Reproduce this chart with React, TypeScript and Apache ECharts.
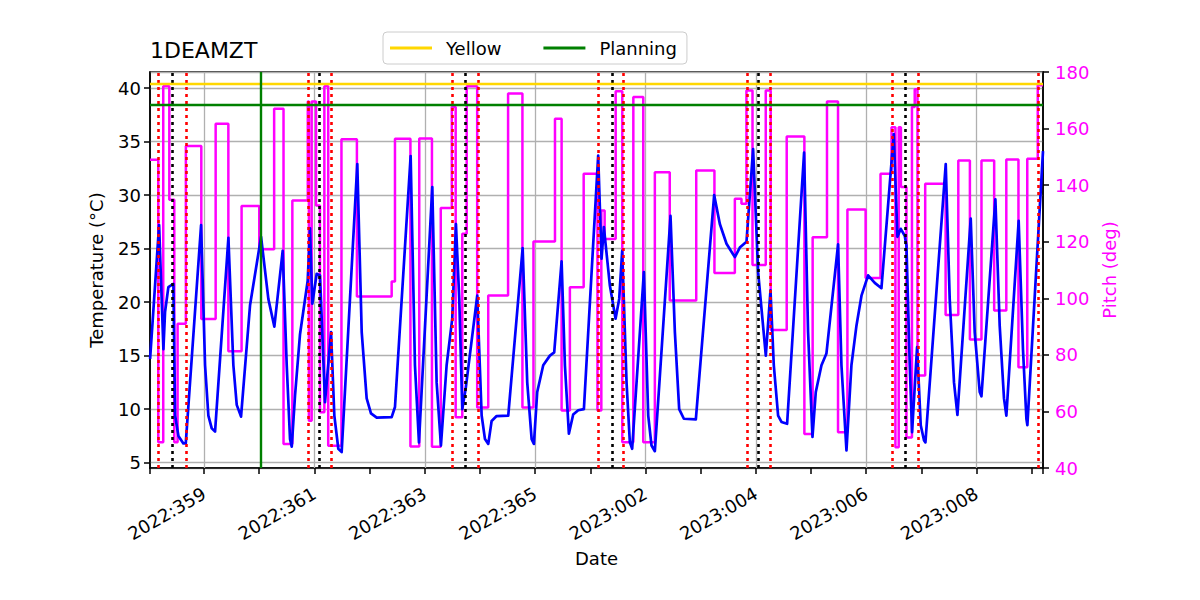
import React, { useEffect, useRef } from 'react';
import * as echarts from 'echarts';

// ---- axis extents ----
const X_MIN = 358.02;
const X_MAX = 374.205;
const T_MIN = 4.5;
const T_MAX = 41.5;
const P_MIN = 40;
const P_MAX = 180;

// ---- x tick labels (day of year) ----
const xTickDays = [359, 361, 363, 365, 367, 369, 371, 373];
const xTickLabels = ['2022:359', '2022:361', '2022:363', '2022:365', '2023:002', '2023:004', '2023:006', '2023:008'];

// ---- temperature (1DEAMZT) ----
const tempDays = [
  358.022, 358.185, 358.263, 358.293, 358.353, 358.444, 358.475, 358.535, 358.625, 358.668,
  358.946, 359.018, 359.078, 359.139, 359.199, 359.441, 359.531, 359.592, 359.670, 359.833,
  360.033, 360.165, 360.274, 360.425, 360.498, 360.558, 360.589, 360.649, 360.739, 360.878,
  360.92, 360.962, 361.041, 361.101, 361.192, 361.301, 361.361, 361.433, 361.494, 361.777,
  361.857, 361.947, 362.025, 362.129, 362.4, 362.46, 362.744, 362.822, 362.895, 363.136,
  363.215, 363.293, 363.396, 363.498, 363.565, 363.625, 363.68, 363.741, 363.951, 364.031,
  364.091, 364.151, 364.212, 364.302, 364.513, 364.774, 364.857, 364.937, 364.978, 365.038,
  365.147, 365.268, 365.346, 365.48, 365.54, 365.612, 365.69, 365.781, 365.884, 366.143,
  366.204, 366.246, 366.355, 366.458, 366.524, 366.578, 366.657, 366.717, 366.759, 366.971,
  367.05, 367.11, 367.17, 367.454, 367.533, 367.611, 367.696, 367.913, 368.245, 368.348,
  368.469, 368.62, 368.71, 368.831, 368.951, 369.042, 369.181, 369.266, 369.326, 369.404,
  369.465, 369.567, 369.875, 369.947, 370.027, 370.087, 370.19, 370.28, 370.491, 370.552,
  370.643, 370.733, 370.824, 370.915, 371.035, 371.156, 371.277, 371.5, 371.567, 371.627,
  371.699, 371.73, 371.79, 371.832, 371.923, 371.989, 372.049, 372.074, 372.442, 372.514,
  372.592, 372.654, 372.895, 372.967, 373.058, 373.089, 373.342, 373.42, 373.498, 373.541,
  373.764, 373.842, 373.904, 373.922, 374.205,
];
const tempValues = [
  14.7, 27.2, 15.6, 19.1, 21.4, 21.7, 9.4, 7.5, 6.8, 6.8,
  27.2, 14.1, 9.4, 8.2, 7.9, 26.0, 14.1, 10.4, 9.3, 19.7,
  26.1, 20.3, 17.7, 24.8, 14.1, 7.2, 6.5, 11.3, 17.0, 22.0,
  26.9, 19.85, 22.65, 22.5, 10.65, 17.2, 9.4, 6.3, 6.0, 32.9,
  17.2, 11.0, 9.6, 9.2, 9.25, 10.2, 33.65, 14.1, 6.9, 30.75,
  12.5, 6.6, 14.1, 18.45, 27.3, 20.3, 10.0, 11.9, 20.6, 9.4,
  7.2, 6.75, 8.9, 9.35, 9.4, 25.05, 12.5, 7.2, 6.75, 11.6,
  14.1, 15.0, 15.3, 23.8, 14.1, 7.7, 9.5, 9.9, 10.0, 33.7,
  24.05, 27.0, 21.55, 18.45, 20.3, 24.8, 12.5, 6.9, 6.3, 22.8,
  9.4, 6.6, 6.07, 28.05, 17.2, 10.0, 9.1, 9.05, 30.0, 27.3,
  25.45, 24.2, 25.1, 25.65, 34.3, 22.8, 15.0, 21.1, 14.1, 9.4,
  8.8, 8.63, 33.96, 17.2, 7.4, 11.6, 14.1, 15.2, 25.4, 14.1,
  6.14, 14.1, 17.8, 20.6, 22.5, 21.8, 21.3, 35.7, 26.1, 26.85,
  26.2, 25.3, 14.1, 7.85, 15.8, 8.5, 7.07, 6.9, 32.9, 20.3,
  12.5, 9.47, 27.8, 17.2, 11.6, 11.2, 29.6, 17.8, 11.0, 9.4,
  27.6, 15.6, 9.1, 8.5, 34.1,
];

// ---- pitch (held from each day until the next) ----
const pitchDays = [
  358.02, 358.17, 358.26, 358.37, 358.46, 358.52, 358.67, 358.95, 359.21, 359.44,
  359.68, 360.0, 360.27, 360.44, 360.6, 360.88, 360.9, 360.95, 361.03, 361.1,
  361.18, 361.25, 361.49, 361.77, 362.4, 362.46, 362.74, 362.9, 363.13, 363.29,
  363.49, 363.56, 363.68, 363.76, 363.95, 364.15, 364.51, 364.77, 364.97, 365.36,
  365.48, 365.63, 365.88, 366.13, 366.2, 366.26, 366.46, 366.58, 366.78, 366.96,
  367.17, 367.44, 367.92, 368.25, 368.62, 368.74, 368.83, 368.94, 369.18, 369.27,
  369.56, 369.88, 370.03, 370.29, 370.49, 370.66, 370.99, 371.26, 371.46, 371.53,
  371.59, 371.63, 371.73, 371.83, 371.88, 371.93, 372.07, 372.44, 372.67, 372.88,
  373.09, 373.32, 373.54, 373.76, 373.92, 374.11,
];
const pitchValues = [
  149.0, 49.1, 175.0, 134.8, 49.1, 91.0, 153.8, 92.7, 161.7, 81.3,
  132.6, 117.3, 167.0, 48.5, 134.6, 169.6, 56.7, 169.6, 132.8, 59.7,
  175.0, 47.9, 156.2, 100.6, 105.9, 156.4, 47.6, 156.5, 47.5, 131.9,
  167.6, 57.9, 122.8, 175.0, 61.4, 101.0, 172.4, 61.4, 120.1, 163.5,
  60.3, 103.9, 144.0, 60.3, 131.0, 121.0, 173.2, 49.1, 171.2, 49.1,
  144.6, 99.2, 145.2, 108.9, 135.2, 133.4, 173.5, 111.8, 173.5, 88.8,
  157.2, 52.0, 121.6, 169.6, 52.6, 131.4, 107.2, 144.0, 160.5, 47.3,
  160.5, 139.3, 50.8, 167.6, 173.9, 72.7, 140.5, 94.1, 148.7, 85.4,
  148.7, 95.7, 149.1, 75.6, 149.3, 175.3,
];

// ---- event markers ----
const redEventDays = [358.17, 358.68, 360.88, 361.30, 363.49, 363.97, 366.14, 366.60, 368.85, 369.27, 371.48, 371.94, 374.11];
const blackEventDays = [358.43, 361.08, 363.74, 366.40, 369.04, 371.71];
const planningDay = 360.03;
const yellowLimit = 40.4;
const planningLimit = 38.45;

const FONT = 'DejaVu Sans';

export default function App() {
  const ref = useRef<HTMLDivElement>(null);

  useEffect(() => {
    document.body.style.margin = '0';
    const chart = echarts.init(ref.current as HTMLDivElement, null, { renderer: 'svg' });

    const n = Math.min(tempDays.length, tempValues.length);
    const tempData = [] as number[][];
    for (let i = 0; i < n; i++) tempData.push([tempDays[i], tempValues[i]]);

    const m = Math.min(pitchDays.length, pitchValues.length);
    const pitchData = [] as number[][];
    for (let i = 0; i < m; i++) pitchData.push([pitchDays[i], pitchValues[i]]);
    pitchData.push([X_MAX, pitchValues[m - 1]]);

    const fmtDay = (v: number) => {
      const idx = xTickDays.findIndex((d) => Math.abs(d - v) < 1e-6);
      return idx >= 0 ? xTickLabels[idx] : '';
    };

    const markBase = {
      symbol: ['none', 'none'],
      silent: true,
      label: { show: false },
      emphasis: { disabled: true },
      animation: false,
    };

    const option: any = {
      animation: false,
      textStyle: { fontFamily: FONT },
      title: {
        text: '1DEAMZT',
        left: 150,
        top: 39,
        padding: 0,
        textStyle: { fontFamily: FONT, fontSize: 22, fontWeight: 'normal', color: '#000' },
      },
      legend: {
        data: ['Yellow', 'Planning'],
        left: 383,
        top: 32,
        padding: [7, 10, 7, 7],
        itemGap: 42,
        itemWidth: 42,
        itemHeight: 3,
        icon: 'rect',
        borderColor: '#cccccc',
        borderWidth: 1,
        borderRadius: 4,
        backgroundColor: '#ffffff',
        textStyle: { fontFamily: FONT, fontSize: 18, color: '#000', padding: [0, 0, 0, 9] },
      },
      grid: {
        left: 150,
        right: 157,
        top: 72,
        bottom: 132,
        show: true,
        borderColor: '#000',
        borderWidth: 1.5,
        backgroundColor: 'transparent',
        outerBoundsMode: 'none',
      },
      xAxis: {
        type: 'value',
        min: X_MIN,
        max: X_MAX,
        splitNumber: 14,
        name: 'Date',
        nameLocation: 'middle',
        nameGap: 79,
        nameTextStyle: { fontFamily: FONT, fontSize: 18, color: '#000' },
        axisLine: { show: true, onZero: false, lineStyle: { color: '#000', width: 1.5 } },
        axisTick: { show: true, length: 6, lineStyle: { color: '#000', width: 1.5 } },
        axisLabel: { rotate: 30, margin: 24, fontFamily: FONT, fontSize: 18, color: '#000', formatter: fmtDay },
        splitLine: { show: false },
      },
      yAxis: [
        {
          type: 'value',
          position: 'left',
          min: T_MIN,
          max: T_MAX,
          splitNumber: 7,
          name: 'Temperature (°C)',
          nameLocation: 'middle',
          nameGap: 45,
          nameTextStyle: { fontFamily: FONT, fontSize: 18, color: '#000' },
          axisLine: { show: true, onZero: false, lineStyle: { color: '#000', width: 1.5 } },
          axisTick: { show: true, length: 6, lineStyle: { color: '#000', width: 1.5 } },
          axisLabel: {
            margin: 9,
            fontFamily: FONT,
            fontSize: 18,
            color: '#000',
            showMinLabel: false,
            showMaxLabel: false,
            formatter: (v: number) => (Math.abs(v / 5 - Math.round(v / 5)) < 1e-6 ? String(Math.round(v)) : ''),
          },
          splitLine: { show: true, lineStyle: { color: '#b0b0b0', width: 1.3 } },
        },
        {
          type: 'value',
          position: 'right',
          min: P_MIN,
          max: P_MAX,
          interval: 20,
          name: 'Pitch (deg)',
          nameLocation: 'middle',
          nameGap: 49,
          nameRotate: 90,
          nameTextStyle: { fontFamily: FONT, fontSize: 18, color: '#ff00ff' },
          axisLine: { show: true, onZero: false, lineStyle: { color: '#000', width: 1.5 } },
          axisTick: { show: true, length: 6, lineStyle: { color: '#000', width: 1.5 } },
          axisLabel: { margin: 12, fontFamily: FONT, fontSize: 18, color: '#ff00ff' },
          splitLine: { show: false },
        },
      ],
      series: [
        {
          name: 'xgrid',
          type: 'line',
          data: [],
          markLine: {
            ...markBase,
            z: 1,
            lineStyle: { color: '#b0b0b0', width: 1.3, type: 'solid' },
            data: xTickDays.map((d) => ({ xAxis: d })),
          },
        },
        {
          name: 'Pitch',
          type: 'line',
          yAxisIndex: 1,
          step: 'end',
          data: pitchData,
          symbol: 'none',
          showSymbol: false,
          z: 3,
          lineStyle: { color: '#ff00ff', width: 2.5 },
          itemStyle: { color: '#ff00ff' },
        },
        {
          name: '1DEAMZT',
          type: 'line',
          data: tempData,
          symbol: 'none',
          showSymbol: false,
          z: 4,
          lineStyle: { color: '#0000ff', width: 2.7, join: 'round' },
          itemStyle: { color: '#0000ff' },
        },
        {
          name: 'events',
          type: 'line',
          data: [],
          markLine: {
            ...markBase,
            z: 6,
            lineStyle: { width: 2.6, type: [3, 4] },
            data: [
              ...redEventDays.map((d) => ({ xAxis: d, lineStyle: { color: '#ff0000', width: 2.6, type: [3, 4] } })),
              ...blackEventDays.map((d) => ({ xAxis: d, lineStyle: { color: '#000000', width: 2.6, type: [3, 4] } })),
            ],
          },
        },
        {
          name: 'Yellow',
          type: 'line',
          data: [],
          color: '#ffd700',
          itemStyle: { color: '#ffd700' },
          lineStyle: { color: '#ffd700' },
          markLine: {
            ...markBase,
            z: 7,
            lineStyle: { color: '#ffd700', width: 2.4, type: 'solid' },
            data: [{ yAxis: yellowLimit }],
          },
        },
        {
          name: 'Planning',
          type: 'line',
          data: [],
          color: '#008000',
          itemStyle: { color: '#008000' },
          lineStyle: { color: '#008000' },
          markLine: {
            ...markBase,
            z: 7,
            lineStyle: { color: '#008000', width: 2.4, type: 'solid' },
            data: [{ yAxis: planningLimit }, { xAxis: planningDay }],
          },
        },
      ],
    };

    chart.setOption(option);
    return () => {
      chart.dispose();
    };
  }, []);

  return (
    <div
      ref={ref}
      style={{ position: 'fixed', left: 0, top: 0, width: 1200, height: 600, background: '#fff' }}
    />
  );
}
